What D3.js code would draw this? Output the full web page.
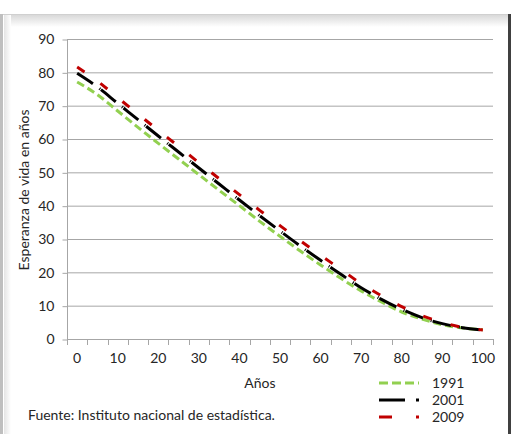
<!DOCTYPE html>
<html>
<head>
<meta charset="utf-8">
<script src="https://cdn.jsdelivr.net/npm/d3@7"></script>
<style>
  body { margin: 0; background: #fff; }
  svg { display: block; font-family: Lato, "Open Sans", sans-serif; }
</style>
</head>
<body>
<svg id="chart" width="515" height="434"></svg>
<script>
// Ages (categories) and life expectancy per year of data
const ages = [0, 5, 10, 15, 20, 25, 30, 35, 40, 45, 50, 55, 60, 65, 70, 75, 80, 85, 90, 95, 100];
const e1991 = [77.1, 73.3, 68.4, 63.5, 58.7, 54.0, 49.3, 44.6, 40.0, 35.3, 30.8, 26.4, 22.2, 18.2, 14.4, 11.1, 8.1, 6.0, 4.3, 3.3, 2.8];
const e2001 = [79.7, 75.6, 70.7, 65.8, 60.9, 56.1, 51.3, 46.5, 41.7, 37.0, 32.4, 27.9, 23.6, 19.4, 15.4, 11.9, 8.9, 6.4, 4.6, 3.4, 2.7];
const e2009 = [81.6, 77.4, 72.4, 67.5, 62.6, 57.8, 52.9, 48.1, 43.3, 38.6, 34.0, 29.5, 25.1, 20.9, 16.6, 13.0, 9.7, 7.0, 5.0, 3.5, 2.7];
const yTicks = [0, 10, 20, 30, 40, 50, 60, 70, 80, 90];
const xLabels = [0, 10, 20, 30, 40, 50, 60, 70, 80, 90, 100];

const series = [
  { name: "1991", values: e1991, color: "#92d050", dash: "8,4", legendDash: "9,4" },
  { name: "2001", values: e2001, color: "#000000", dash: "19,8,1,1", legendDash: "26,11,3,100" },
  { name: "2009", values: e2009, color: "#c00000", dash: "9,19.5", legendDash: "13,24,3,100" }
];

const fontSize = 14;
const textColor = "#262626";
const svg = d3.select("#chart");

// Frame with soft shadow edges
const defs = svg.append("defs");
const gTop = defs.append("linearGradient").attr("id", "gTop").attr("x1", 0).attr("x2", 0).attr("y1", 0).attr("y2", 1);
gTop.append("stop").attr("offset", 0).attr("stop-color", "#d9d9d9");
gTop.append("stop").attr("offset", 1).attr("stop-color", "#fff");
const gLeft = defs.append("linearGradient").attr("id", "gLeft").attr("x1", 0).attr("x2", 1).attr("y1", 0).attr("y2", 0);
gLeft.append("stop").attr("offset", 0).attr("stop-color", "#e4e4e4");
gLeft.append("stop").attr("offset", 1).attr("stop-color", "#fff");

svg.append("rect").attr("x", 0).attr("y", 14).attr("width", 512).attr("height", 420).attr("fill", "#fff");
svg.append("rect").attr("x", 4).attr("y", 15).attr("width", 504).attr("height", 12).attr("fill", "url(#gTop)");
svg.append("rect").attr("x", 4).attr("y", 15).attr("width", 7).attr("height", 419).attr("fill", "url(#gLeft)");
svg.append("line").attr("x1", 0).attr("x2", 510).attr("y1", 14.5).attr("y2", 14.5).attr("stroke", "#d0d0d0");
svg.append("rect").attr("x", 0).attr("y", 14).attr("width", 3).attr("height", 420).attr("fill", "#bfbfbf");
svg.append("rect").attr("x", 508).attr("y", 14).attr("width", 3).attr("height", 420).attr("fill", "#404040");

// Scales
const x = d3.scaleBand().domain(ages).range([67, 493]).padding(0);
const y = d3.scaleLinear().domain([0, 90]).range([339, 39]);
const xc = d => x(d) + x.bandwidth() / 2;

// Gridlines
svg.append("g").selectAll("line")
  .data(yTicks.filter(d => d > 0))
  .enter().append("line")
  .attr("x1", 67).attr("x2", 493)
  .attr("y1", d => y(d) + 0.5).attr("y2", d => y(d) + 0.5)
  .attr("stroke", "#a6a6a6");

// Y axis
const yAxis = svg.append("g").attr("transform", "translate(67.5,0.5)")
  .call(d3.axisLeft(y).tickValues(yTicks).tickSize(5).tickPadding(8));
yAxis.select(".domain").attr("stroke", "#a6a6a6").attr("d", `M0,${y(90)}V${y(0)}`);
yAxis.selectAll(".tick line").attr("stroke", "#a6a6a6");
yAxis.selectAll("text").attr("font-size", fontSize).attr("fill", textColor).attr("font-family", "Lato, sans-serif");

// X axis: category boundaries as ticks, labels every other category
svg.append("line").attr("x1", 67).attr("x2", 493).attr("y1", 339.5).attr("y2", 339.5).attr("stroke", "#a6a6a6");
svg.append("g").selectAll("line")
  .data(ages.map(d => x(d)).concat([493]))
  .enter().append("line")
  .attr("x1", d => Math.round(d) + 0.5).attr("x2", d => Math.round(d) + 0.5)
  .attr("y1", 339).attr("y2", 345)
  .attr("stroke", "#a6a6a6");
svg.append("g").selectAll("text")
  .data(xLabels)
  .enter().append("text")
  .attr("x", d => xc(d)).attr("y", 363)
  .attr("text-anchor", "middle").attr("font-size", fontSize).attr("fill", textColor)
  .text(d => d);

// Lines
const line = d3.line().x((d, i) => xc(ages[i])).y(d => y(d)).curve(d3.curveMonotoneX);
svg.append("g").selectAll("path")
  .data(series)
  .enter().append("path")
  .attr("d", d => line(d.values))
  .attr("fill", "none")
  .attr("stroke", d => d.color)
  .attr("stroke-width", 3)
  .attr("stroke-dasharray", d => d.dash);

// Axis titles
svg.append("text").attr("x", 260).attr("y", 388).attr("text-anchor", "middle")
  .attr("font-size", fontSize).attr("fill", textColor).text("Años");
svg.append("text").attr("transform", "translate(29,190) rotate(-90)").attr("text-anchor", "middle")
  .attr("font-size", fontSize).attr("fill", textColor).text("Esperanza de vida en años");

// Legend
const legend = svg.append("g").selectAll("g")
  .data(series)
  .enter().append("g")
  .attr("transform", (d, i) => `translate(379,${383 + i * 17})`);
legend.append("line").attr("x1", 0).attr("x2", 40).attr("y1", 0).attr("y2", 0)
  .attr("stroke", d => d.color).attr("stroke-width", 3)
  .attr("stroke-dasharray", d => d.legendDash);
legend.append("text").attr("x", 53).attr("y", 5)
  .attr("font-size", fontSize).attr("fill", textColor).text(d => d.name);

// Source note
svg.append("text").attr("x", 28).attr("y", 420)
  .attr("font-size", fontSize).attr("fill", textColor).text("Fuente: Instituto nacional de estadística.");
</script>
</body>
</html>
